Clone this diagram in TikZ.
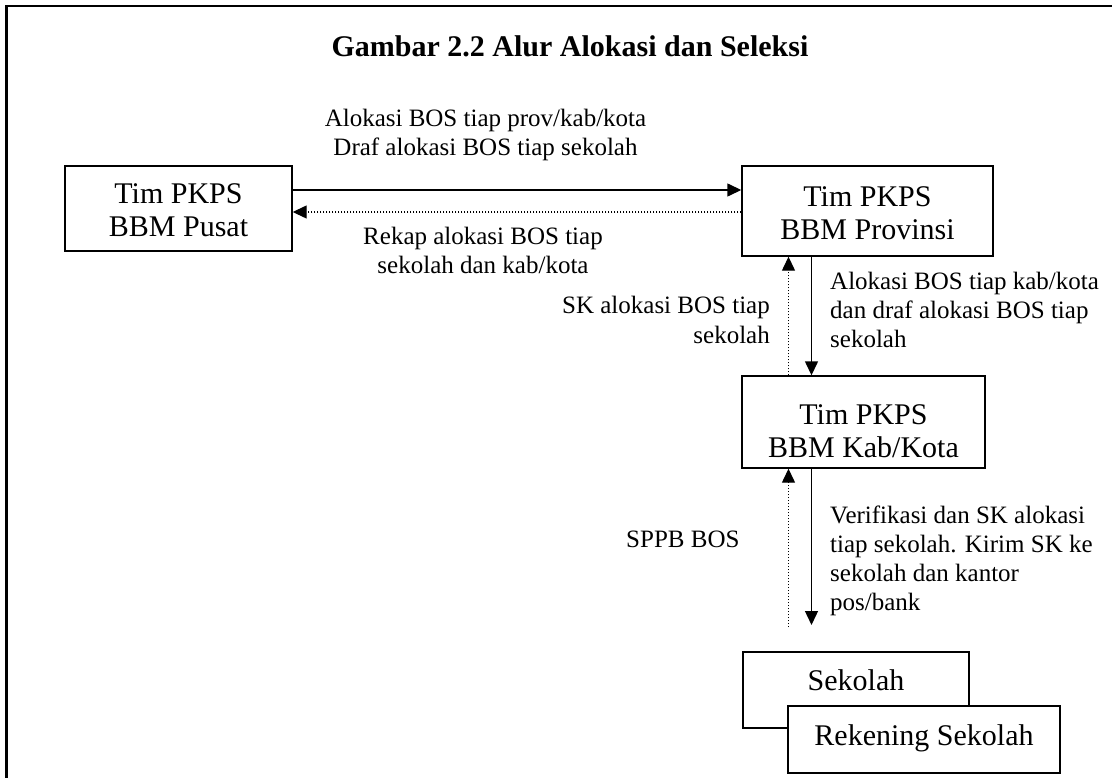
\documentclass[tikz,border=0pt]{standalone}
\usepackage{fontspec}
\setmainfont{Liberation Serif}
\usetikzlibrary{arrows.meta}
\begin{document}
\begin{tikzpicture}[x=1pt,y=-1pt,
  box/.style={draw, line width=1.4pt, fill=white, inner sep=0pt,
    font=\fontsize{30}{33}\selectfont},
  twolines/.style={text height=24pt, text depth=33pt},
  lbl/.style={inner sep=0pt, font=\fontsize{25}{29}\selectfont},
  arr/.style={line width=1.4pt, -{Triangle[length=14pt,width=13pt]}},
  dotarr/.style={line width=1.3pt, dash pattern=on 1.4pt off 1.6pt,
    -{Triangle[length=14pt,width=13pt]}}]
\useasboundingbox (0,0) rectangle (1112,778);

% frame
\draw[line width=2.5pt] (6.5,778) -- (6.5,6) -- (1112,6);

% title
\node[inner sep=0pt, font=\fontsize{30}{36}\selectfont\bfseries, anchor=base]
  (title) at (570,57) {Gambar 2.2 Alur Alokasi dan Seleksi};

% boxes
\node[box, twolines, minimum width=227pt, minimum height=85pt] (pusat) at (178.5,208.5)
  {\parbox[t]{220pt}{\centering Tim PKPS\\BBM Pusat}};
\node[box, twolines, minimum width=251pt, minimum height=90pt] (prov) at (867.5,211)
  {\parbox[t]{240pt}{\centering Tim PKPS\\BBM Provinsi}};
\node[box, text height=37pt, text depth=33pt, minimum width=243pt, minimum height=92pt] (kab) at (863.5,422)
  {\parbox[t]{240pt}{\centering Tim PKPS\\BBM Kab/Kota}};
\node[box, text height=10pt, text depth=10pt, minimum width=226pt, minimum height=76pt] (sekolah) at (856,690)
  {Sekolah};
\node[box, text height=16pt, text depth=5pt, minimum width=272pt, minimum height=67pt] (rek) at (924,739.5)
  {Rekening Sekolah\hspace{13pt}};

% connector positions
\coordinate (ya) at (0,190);
\coordinate (yb) at (0,212);
\coordinate (xs) at (811.5,0);
\coordinate (xd) at (788.5,0);
\coordinate (endS) at (811.5,625);
\coordinate (endD) at (788.5,627);

% connectors
\draw[arr] (pusat.east |- ya) -- (prov.west |- ya);
\draw[dotarr] (prov.west |- yb) -- (pusat.east |- yb);
\draw[arr] (xs |- prov.south) -- (xs |- kab.north);
\draw[dotarr] (xd |- kab.north) -- (xd |- prov.south);
\draw[arr] (xs |- kab.south) -- (endS);
\draw[dotarr] (endD) -- (xd |- kab.south);

% labels
\node[lbl, anchor=base] (l1) at (485.5,127)
  {\parbox[t]{420pt}{\centering Alokasi BOS tiap prov/kab/kota\\Draf alokasi BOS tiap sekolah}};
\node[lbl, anchor=base] (l2) at (483,245)
  {\parbox[t]{400pt}{\centering Rekap alokasi BOS tiap\\sekolah dan kab/kota}};
\node[lbl, anchor=base east] (l3) at (770,314)
  {\parbox[t]{300pt}{\raggedleft SK alokasi BOS tiap\\sekolah}};
\node[lbl, anchor=base west] (l4) at (830,290)
  {\parbox[t]{300pt}{\raggedright Alokasi BOS tiap kab/kota\\dan draf alokasi BOS tiap\\sekolah}};
\node[lbl, anchor=base west] (l5) at (626,547) {SPPB BOS};
\node[lbl, anchor=base west] (l6) at (830,523)
  {\parbox[t]{300pt}{\raggedright Verifikasi dan SK alokasi\\tiap sekolah. Kirim SK ke\\sekolah dan kantor\\pos/bank}};
\end{tikzpicture}
\end{document}
